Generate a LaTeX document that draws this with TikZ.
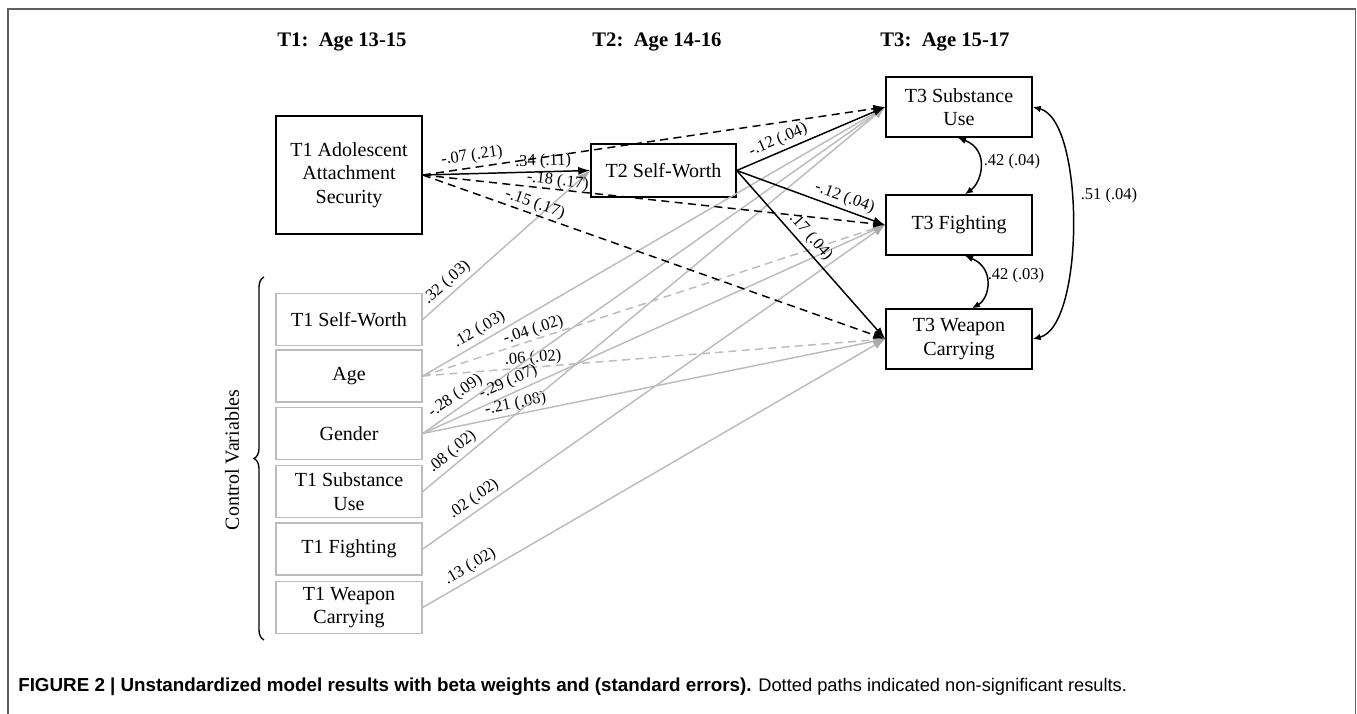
\documentclass[tikz,border=0pt]{standalone}
\usepackage{fontspec}
\setmainfont{Liberation Serif}
\newfontfamily\capfont{Liberation Sans}
\usetikzlibrary{arrows.meta,decorations.pathreplacing}
\definecolor{lg}{RGB}{188,188,188}
\definecolor{lgd}{RGB}{170,170,170}
\definecolor{framec}{RGB}{95,95,95}
\newcommand{\nodefont}{\fontsize{15}{17.6}\selectfont}
\newcommand{\labfont}{\fontsize{12.4}{14}\selectfont}
\tikzset{
  box/.style={draw, line width=1.1pt, minimum width=109.5pt, font=\nodefont, align=center, inner sep=2pt},
  cbox/.style={box, draw=lg},
  lab/.style={font=\labfont, sloped, above, inner sep=2.5pt, text=black},
  blk/.style={line width=1.1pt, draw=black, -{Latex[length=9pt,width=6pt]}},
  gry/.style={line width=1.1pt, draw=lg, -{Latex[length=9pt,width=6.5pt,color=lgd]}},
  dsh/.style={dash pattern=on 6pt off 4pt},
  cov/.style={line width=1.1pt, {Latex[length=6pt,width=5pt]}-{Latex[length=6pt,width=5pt]}},
  hdr/.style={font=\bfseries\fontsize{15.5}{18}\selectfont}
}
\begin{document}
\begin{tikzpicture}[x=0.75pt,y=-0.75pt]
\useasboundingbox (0,0) rectangle (1357,714);
% frame
\draw[framec, line width=1.4pt] (8,714) -- (8,9) -- (1355.5,9) -- (1355.5,714);
% headers
\node[hdr] (h1) at (342,42) {T1:~~Age 13-15};
\node[hdr] (h2) at (657,42) {T2:~~Age 14-16};
\node[hdr] (h3) at (945,42) {T3:~~Age 15-17};
% main boxes
\node[box, minimum height=88.5pt] (adol) at (349,175) {T1 Adolescent\\Attachment\\Security};
\node[box, minimum width=108.75pt, minimum height=39.75pt] (t2) at (663.5,170.5) {T2 Self-Worth};
\node[box, minimum height=45pt] (sub3) at (959,107) {T3 Substance\\Use};
\node[box, minimum height=45pt] (fig3) at (959,225) {T3 Fighting};
\node[box, minimum height=45pt] (wea3) at (959,339) {T3 Weapon\\Carrying};
% control boxes
\node[cbox, minimum height=39pt] (c1) at (349,319.5) {T1 Self-Worth};
\node[cbox, minimum height=39pt] (c2) at (349,376) {Age};
\node[cbox, minimum height=39pt] (c3) at (349,433.5) {Gender};
\node[cbox, minimum height=39pt] (c4) at (349,491.5) {T1 Substance\\Use};
\node[cbox, minimum height=39pt] (c5) at (349,549) {T1 Fighting};
\node[cbox, minimum height=39pt] (c6) at (349,607.5) {T1 Weapon\\Carrying};
% brace and label
\coordinate (bb) at (264,640);
\coordinate (bt) at (264,277);
\draw[line width=1pt, decorate, decoration={brace, amplitude=7.5pt}] (bb) -- (bt);
\node[rotate=90, font=\nodefont] (cv) at (232,460) {Control Variables};
% gray paths
\draw[gry] (c1.east) -- node[lab,pos=0.19] (l8) {.32 (.03)} (t2.west);
\draw[gry] (c2.east) -- node[lab,pos=0.135] (l9) {.12 (.03)} (sub3.west);
\draw[gry,dsh] (c2.east) -- node[lab,pos=0.245,inner sep=0.5pt] (l10) {-.04 (.02)} (fig3.west);
\draw[gry,dsh] (c2.east) -- node[lab,pos=0.24,inner sep=0.5pt] (l11) {.06 (.02)} (wea3.west);
\draw[gry] (c3.east) -- node[lab,pos=0.085] (l12) {-.28 (.09)} (sub3.west);
\draw[gry] (c3.east) -- node[lab,pos=0.195] (l13) {-.29 (.07)} (fig3.west);
\draw[gry] (c3.east) -- node[lab,pos=0.205,inner sep=1.5pt] (l14) {-.21 (.08)} (wea3.west);
\draw[gry] (c4.east) -- node[lab,pos=0.08] (l15) {.08 (.02)} (sub3.west);
\draw[gry] (c5.east) -- node[lab,pos=0.125] (l16) {.02 (.02)} (fig3.west);
\draw[gry] (c6.east) -- node[lab,pos=0.115] (l17) {.13 (.02)} (wea3.west);
% black paths
\draw[blk,dsh] (adol.east) -- node[lab,pos=0.11] (l1) {-.07 (.21)} (sub3.west);
\draw[blk] (adol.east) -- node[lab,pos=0.72,inner sep=1.5pt] (l2) {.34 (.11)} (t2.west);
\draw[blk,dsh] (adol.east) -- node[lab,pos=0.29,inner sep=0pt] (l3) {-.18 (.17)} (fig3.west);
\draw[blk,dsh] (adol.east) -- node[lab,pos=0.235,inner sep=1.5pt] (l4) {-.15 (.17)} (wea3.west);
\draw[blk] (t2.east) -- node[lab,pos=0.31] (l5) {-.12 (.04)} (sub3.west);
\draw[blk] (t2.east) -- node[lab,pos=0.7] (l6) {-.12 (.04)} (fig3.west);
\draw[blk] (t2.east) -- node[lab,pos=0.44] (l7) {.17 (.04)} (wea3.west);
% covariances
\draw[cov] ([xshift=-0.75pt]sub3.south) .. controls (990,150) and (982,182) .. ([xshift=4.5pt]fig3.north);
\draw[cov] ([xshift=4.5pt]fig3.south) .. controls (995,268) and (990,298) .. ([xshift=9.75pt]wea3.north);
\draw[cov] (sub3.east) .. controls (1085,120) and (1085,326) .. (wea3.east);
\node[font=\labfont] (k1) at (1012,162) {.42 (.04)};
\node[font=\labfont] (k2) at (1016,276) {.42 (.03)};
\node[font=\labfont] (k3) at (1109,196) {.51 (.04)};
% caption
\node[anchor=base west, inner sep=0pt, font=\capfont\fontsize{13.7}{16}\selectfont] (cap) at (18,691)
  {{\bfseries\fontsize{14.1}{16}\selectfont FIGURE 2 | Unstandardized model results with beta weights and (standard errors).} Dotted paths indicated non-significant results.};
\end{tikzpicture}
\end{document}
